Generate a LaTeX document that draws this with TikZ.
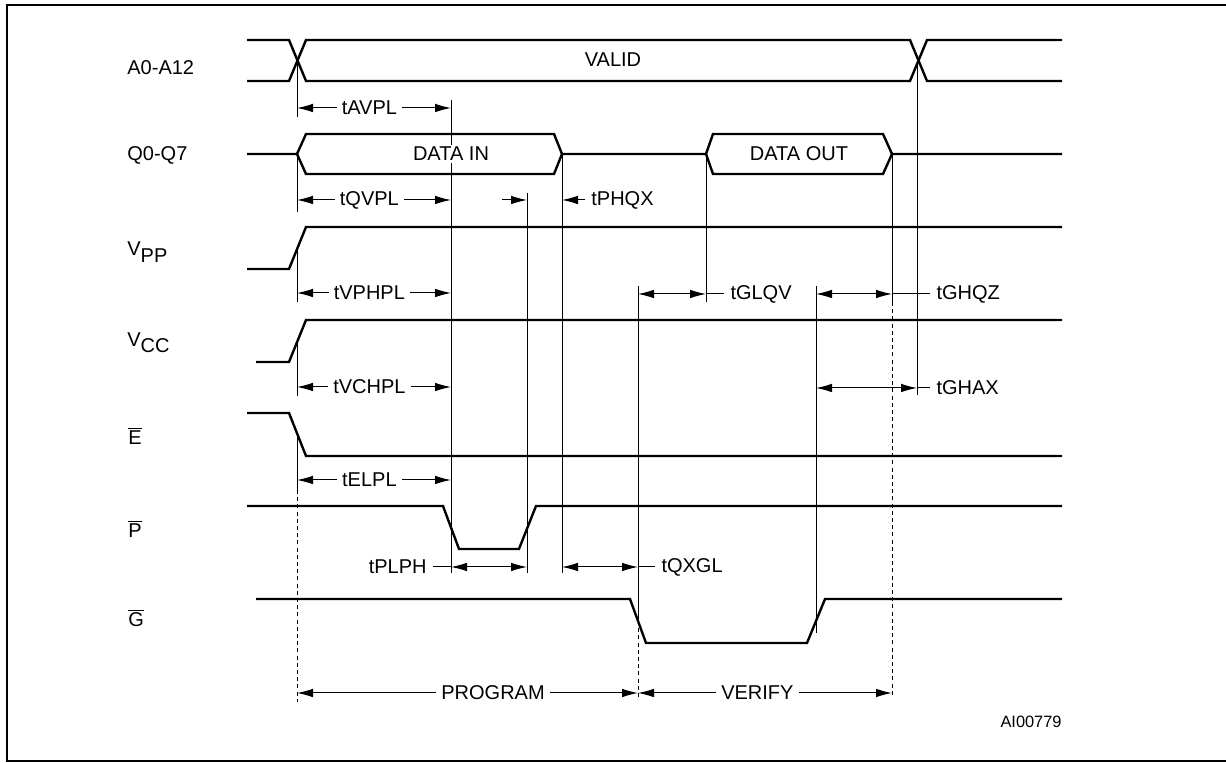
\documentclass[tikz,border=0pt]{standalone}
\usepackage{fontspec}
\setmainfont{Liberation Sans}
\usetikzlibrary{arrows.meta,calc}

\tikzstyle{sig}=[line width=1.2pt, line join=miter]
\tikzstyle{tline}=[line width=0.5pt]
\tikzstyle{guide}=[line width=0.5pt, dash pattern=on 2pt off 1.6pt]
\tikzstyle{dim}=[tline, {Latex[length=8pt,width=4.3pt]}-{Latex[length=8pt,width=4.3pt]}]
\tikzstyle{onetip}=[tline, -{Latex[length=8pt,width=4.3pt]}]
\tikzstyle{lbl}=[font=\fontsize{10}{12}\selectfont, inner sep=2.5pt]
\tikzstyle{tag}=[lbl, fill=white]
\tikzstyle{signame}=[lbl, anchor=west, inner sep=0pt]
\newcommand{\ovl}[1]{$\overline{\mbox{#1}}$}
\newcommand{\vsub}[1]{V\raisebox{-3.2pt}{#1}}
% span with label in the middle
\newcommand{\tspan}[4]{\draw[dim] (#1,#3) -- node[tag, pos=0.47]{#4} (#2,#3);}
% span with label to the right
\newcommand{\rspan}[5]{\draw[dim] (#1,#3) -- (#2,#3);
	\draw[tline] (#2,#3) -- (#4,#3) node[lbl,anchor=west,inner sep=3pt]{#5};}

\begin{document}
\begin{tikzpicture}[x=0.5pt,y=-0.5pt]
	\useasboundingbox (0,0) rectangle (1226,763);
	\draw[line width=1.3pt] (1240,5) -- (7,5) -- (7,761) -- (1240,761);
	
	% Signal names
	\node[signame] (nA) at (127,68) {A0-A12};
	\node[signame] (nQ) at (127,155) {Q0-Q7};
	\node[signame] (nVpp) at (127,252) {\vsub{PP}};
	\node[signame] (nVcc) at (127,343) {\vsub{CC}};
	\node[signame] (nE) at (128,436) {\ovl{E}};
	\node[signame] (nP) at (128,529) {\ovl{P}};
	\node[signame] (nG) at (128,618) {\ovl{G}};
	
	% Timing lines
	\draw[tline] (297,60) -- (297,117);
	\draw[tline] (297,154) -- (297,212);
	\draw[tline] (297,248) -- (297,302);
	\draw[tline] (297,341) -- (297,396);
	\draw[tline] (297,434) -- (297,490);
	\draw[guide] (297,490) -- (297,702);
	\draw[tline] (451,100) -- (451,573);
	\draw[tline] (527,193) -- (527,573);
	\draw[tline] (562,154) -- (562,573);
	\draw[tline] (638,286) -- (638,621);
	\draw[guide] (638,621) -- (638,700);
	\draw[tline] (706,154) -- (706,302);
	\draw[tline] (816,286) -- (816,633);
	\draw[tline] (892,154) -- (892,302);
	\draw[guide] (892,302) -- (892,695);
	\draw[tline] (917,60) -- (917,395);
	
	% Waveforms
	\draw[sig] (247,40) -- (289,40) -- (306,81) -- (910,81) -- (927,40) -- (1062,40);
	\draw[sig] (247,81) -- (289,81) -- (306,40) -- (910,40) -- (927,81) -- (1062,81);
	\draw[sig] (247,154) -- (297,154) -- (306,134) -- (554,134) -- (562,154) -- (706,154)
		-- (713,134) -- (883,134) -- (892,154) -- (1062,154);
	\draw[sig] (297,154) -- (306,174) -- (554,174) -- (562,154);
	\draw[sig] (706,154) -- (713,174) -- (883,174) -- (892,154);
	\draw[sig] (247,269) -- (289,269) -- (306,227) -- (1062,227);
	\draw[sig] (256,362) -- (289,362) -- (306,320) -- (1062,320);
	\draw[sig] (247,413) -- (289,413) -- (306,456) -- (1062,456);
	\draw[sig] (247,506) -- (443,506) -- (459,549) -- (519,549) -- (536,506) -- (1062,506);
	\draw[sig] (256,599) -- (630,599) -- (646,643) -- (807,643) -- (825,599) -- (1062,599);
	
	\node[lbl] (valid) at (613,60) {VALID};
	\node[tag, inner sep=1pt] (din) at (451,154) {DATA IN};
	\node[lbl] (dout) at (799,154) {DATA OUT};
	
	% Timing spans
	\tspan{297}{451}{108}{tAVPL}
	\tspan{297}{451}{200}{tQVPL}
	\tspan{297}{451}{293}{tVPHPL}
	\tspan{297}{451}{387}{tVCHPL}
	\tspan{297}{451}{480}{tELPL}
	\draw[onetip] (502,200) -- (527,200);
	\draw[onetip] (585,200) -- (562,200);
	\node[lbl, anchor=west, inner sep=3pt] (tphqx) at (585,200) {tPHQX};
	\rspan{638}{706}{294}{724}{tGLQV}
	\rspan{816}{892}{294}{930}{tGHQZ}
	\rspan{816}{917}{388}{930}{tGHAX}
	\draw[dim] (451,567) -- (527,567);
	\draw[tline] (433,567) -- (451,567);
	\node[lbl, anchor=east, inner sep=3pt] (tplph) at (433,567) {tPLPH};
	\rspan{562}{638}{567}{655}{tQXGL}
	\draw[dim] (297,693) -- node[tag, pos=0.575]{PROGRAM} (638,693);
	\tspan{638}{892}{693}{VERIFY}
	
	\node[lbl, anchor=east, inner sep=0pt, font=\fontsize{8.2}{10}\selectfont] (ref) at (1062,722) {AI00779};
	
\end{tikzpicture}
\end{document}
